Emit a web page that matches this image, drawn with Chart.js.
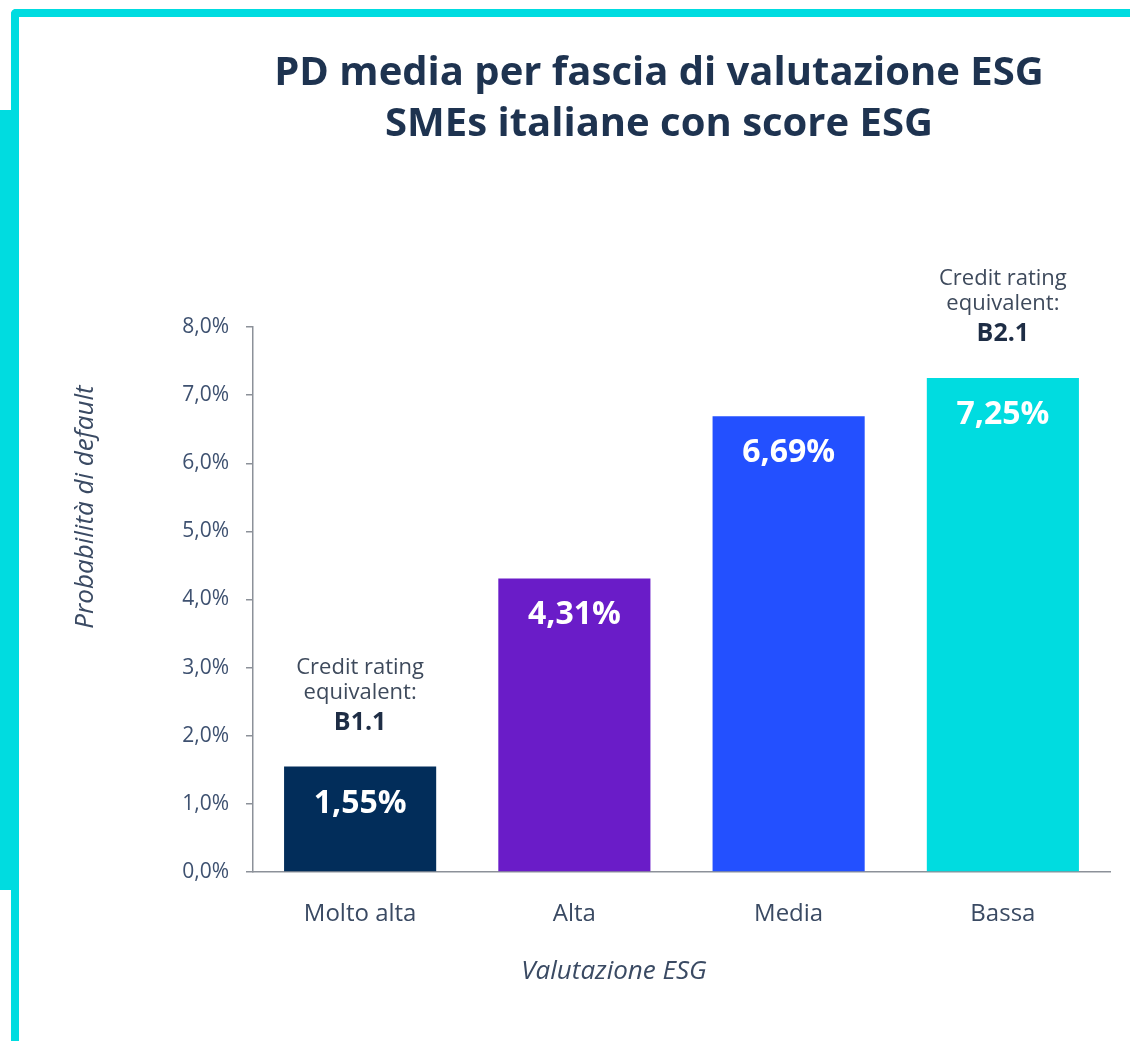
<!DOCTYPE html>
<html>
<head>
<meta charset="utf-8">
<script src="https://cdn.jsdelivr.net/npm/chart.js@4.4.1/dist/chart.umd.min.js"></script>
<style>
  body { margin: 0; background: #ffffff; }
  #wrap { position: relative; width: 1130px; height: 1041px; overflow: hidden; }
  .deco { position: absolute; background: #00DCE0; }
  #graficoPD { position: absolute; left: 0; top: 0; }
</style>
</head>
<body>
<div id="wrap">
  <div class="deco" style="left:11px; top:9px; width:1119px; height:8px; border-top-left-radius:5px;"></div>
  <div class="deco" style="left:11px; top:9px; width:8px; height:1032px; border-top-left-radius:5px;"></div>
  <div class="deco" style="left:0px; top:110px; width:19px; height:780px;"></div>
  <canvas id="graficoPD" width="1130" height="1041"></canvas>
</div>
<script>
const categorie = ["Molto alta", "Alta", "Media", "Bassa"];
const pdMedia = [1.55, 4.31, 6.69, 7.25];
const coloriBarre = ["#022D5A", "#6A1CC8", "#2350FF", "#00DCE0"];
const ratingEquivalente = ["B1.1", null, null, "B2.1"];
const tickY = [0, 1, 2, 3, 4, 5, 6, 7, 8];
const titolo = ["PD media per fascia di valutazione ESG", "SMEs italiane con score ESG"];
const titoloAsseY = "Probabilità di default";
const titoloAsseX = "Valutazione ESG";

const FONT = "'Open Sans', 'Noto Sans', sans-serif";
const CHART_PD = document.getElementById("graficoPD");

function formatPerc(v, dec) {
  return v.toFixed(dec).replace(".", ",") + "%";
}

const testiPlugin = {
  id: "testiPlugin",
  afterDraw(chart) {
    const ctx = chart.ctx;
    const meta = chart.getDatasetMeta(0);
    ctx.save();

    // titolo
    ctx.fillStyle = "#1E3350";
    ctx.font = "bold 40px " + FONT;
    ctx.textAlign = "center";
    ctx.textBaseline = "middle";
    ctx.fillText(titolo[0], 659, 74);
    ctx.fillText(titolo[1], 659, 125);

    // titoli assi
    ctx.fillStyle = "#3A4A63";
    ctx.font = "italic 26px " + FONT;
    ctx.fillText(titoloAsseX, 614, 972);
    ctx.save();
    ctx.translate(86, 507);
    ctx.rotate(-Math.PI / 2);
    ctx.fillText(titoloAsseY, 0, 0);
    ctx.restore();

    // etichette nelle barre + rating
    for (let i = 0; i < meta.data.length; i++) {
      const bar = meta.data[i];
      ctx.fillStyle = "#ffffff";
      ctx.font = "bold 32px " + FONT;
      ctx.fillText(formatPerc(pdMedia[i], 2), bar.x, bar.y + 37);

      if (ratingEquivalente[i]) {
        ctx.fillStyle = "#3E4A5C";
        ctx.font = "22px " + FONT;
        ctx.fillText("Credit rating", bar.x, bar.y - 99);
        ctx.fillText("equivalent:", bar.x, bar.y - 74);
        ctx.fillStyle = "#1E2D45";
        ctx.font = "bold 25px " + FONT;
        ctx.fillText(ratingEquivalente[i], bar.x, bar.y - 44);
      }
    }
    ctx.restore();
  }
};

let graficoPD = new Chart(CHART_PD, {
  type: "bar",
  data: {
    labels: categorie,
    datasets: [
      {
        label: "PD media",
        data: pdMedia,
        backgroundColor: coloriBarre,
        borderWidth: 0,
        categoryPercentage: 1,
        barPercentage: 0.71,
      },
    ],
  },
  options: {
    responsive: false,
    animation: false,
    layout: {
      padding: { top: 327, right: 20, left: 0, bottom: 0 },
    },
    plugins: {
      legend: { display: false },
      tooltip: { enabled: false },
    },
    scales: {
      x: {
        grid: { display: false, drawTicks: false },
        border: { display: true, color: "#8C9199", width: 1.5 },
        ticks: {
          color: "#3A4A63",
          padding: 28,
          font: { family: FONT, size: 24 },
        },
        afterFit(scale) {
          scale.height = 1041 - 872;
        },
      },
      y: {
        min: 0,
        max: 8,
        afterBuildTicks(scale) {
          scale.ticks = tickY.map(v => ({ value: v }));
        },
        grid: {
          drawOnChartArea: false,
          drawTicks: true,
          tickLength: 7,
          color: "#8C9199",
          lineWidth: 1.5,
        },
        border: { display: true, color: "#8C9199", width: 1.5 },
        ticks: {
          color: "#3E5170",
          padding: 17,
          font: { family: FONT, size: 21 },
          callback: function (v) {
            return formatPerc(v, 1);
          },
        },
        afterFit(scale) {
          scale.width = 253;
        },
      },
    },
  },
  plugins: [testiPlugin],
});
</script>
</body>
</html>
